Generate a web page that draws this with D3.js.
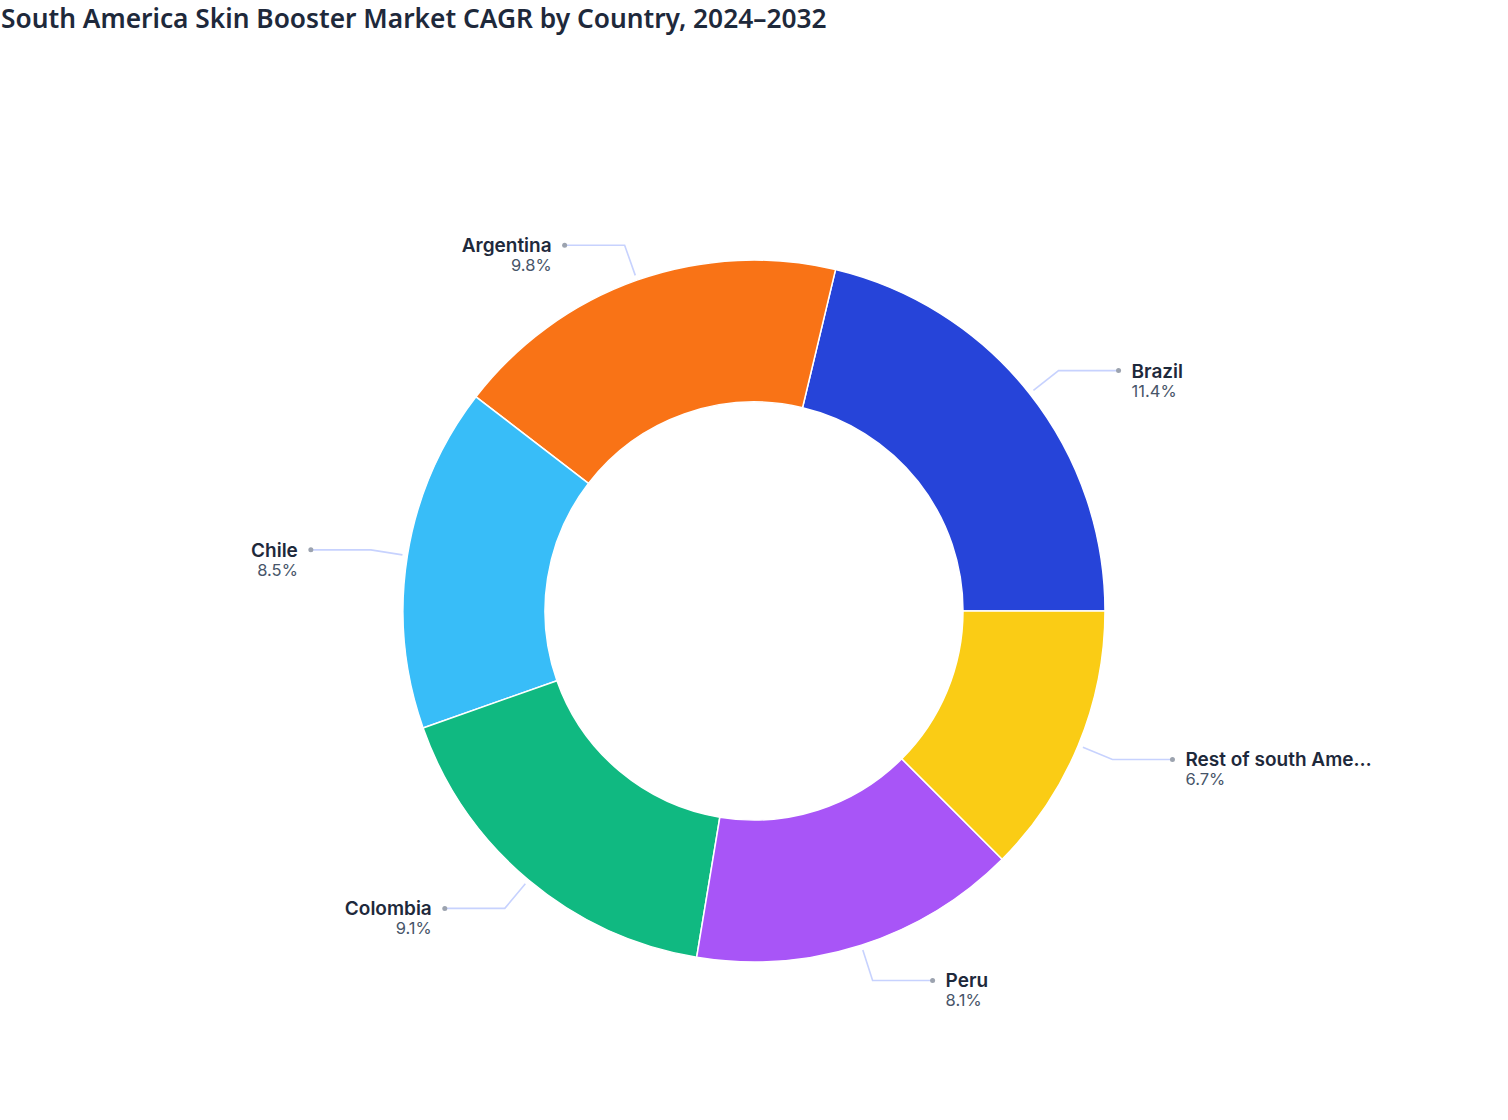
<!DOCTYPE html>
<html>
<head>
<meta charset="utf-8">
<style>
  body { margin: 0; background: #fff; }
  svg { display: block; }
</style>
</head>
<body>
<div class="container"></div>
<script src="https://d3js.org/d3.v7.min.js"></script>
<script>
  var countries = ['Brazil', 'Argentina', 'Chile', 'Colombia', 'Peru', 'Rest of south America'],
      cagr = [11.4, 9.8, 8.5, 9.1, 8.1, 6.7],
      colors = ['#2644d9', '#f97316', '#38bdf8', '#10b981', '#a855f7', '#facc15'];

  var width = 1508, height = 1120,
      cx = 754, cy = 611,
      outerR = 351, innerR = 209;

  var svg = d3.select('.container').append('svg')
      .attr('width', width)
      .attr('height', height);

  svg.append('text')
      .attr('x', 1)
      .attr('y', 28)
      .attr('font-family', '"Noto Sans", "Open Sans", sans-serif')
      .attr('font-size', 26.3)
      .attr('font-weight', 600)
      .attr('fill', '#1e293b')
      .text('South America Skin Booster Market CAGR by Country, 2024\u20132032');

  var data = countries.map(function(c, i) { return { name: c, value: cagr[i], color: colors[i] }; });

  // start at 3 o'clock, go counter-clockwise
  var pie = d3.pie()
      .sort(null)
      .value(function(d) { return d.value; })
      .startAngle(Math.PI / 2)
      .endAngle(Math.PI / 2 - 2 * Math.PI);

  var arcs = pie(data);

  var arc = d3.arc().innerRadius(innerR).outerRadius(outerR);

  var g = svg.append('g').attr('transform', 'translate(' + cx + ',' + cy + ')');

  g.selectAll('path.slice')
      .data(arcs)
      .enter().append('path')
      .attr('class', 'slice')
      .attr('d', arc)
      .attr('fill', function(d) { return d.data.color; })
      .attr('stroke', '#fff')
      .attr('stroke-width', 1.5);

  var startArc = d3.arc().innerRadius(outerR + 5).outerRadius(outerR + 5),
      elbowArc = d3.arc().innerRadius(outerR + 37).outerRadius(outerR + 37);

  function label(text, max) {
    return text.length > max ? text.slice(0, max - 1).trim() + '\u2026' : text;
  }

  var labels = g.selectAll('g.lbl')
      .data(arcs)
      .enter().append('g')
      .attr('class', 'lbl');

  labels.each(function(d) {
    var sel = d3.select(this),
        p0 = startArc.centroid(d),
        p1 = elbowArc.centroid(d),
        right = p1[0] > 0,
        dotX = p1[0] + (right ? 60 : -60),
        textX = dotX + (right ? 13 : -13);

    sel.append('polyline')
        .attr('points', [p0, p1, [dotX, p1[1]]].map(function(p) { return p.join(','); }).join(' '))
        .attr('fill', 'none')
        .attr('stroke', '#c7d2fe')
        .attr('stroke-width', 1.6);

    sel.append('circle')
        .attr('cx', dotX)
        .attr('cy', p1[1])
        .attr('r', 2.5)
        .attr('fill', '#9ca3af');

    sel.append('text')
        .attr('x', textX)
        .attr('y', p1[1] + 7)
        .attr('text-anchor', right ? 'start' : 'end')
        .attr('font-family', 'Inter, "Noto Sans", sans-serif')
        .attr('font-size', 19)
        .attr('font-weight', 600)
        .attr('fill', '#1e293b')
        .text(label(d.data.name, 18));

    sel.append('text')
        .attr('x', textX)
        .attr('y', p1[1] + 26)
        .attr('text-anchor', right ? 'start' : 'end')
        .attr('font-family', 'Inter, "Noto Sans", sans-serif')
        .attr('font-size', 16.5)
        .attr('fill', '#475569')
        .text(d.data.value.toFixed(1) + '%');
  });
</script>
</body>
</html>
